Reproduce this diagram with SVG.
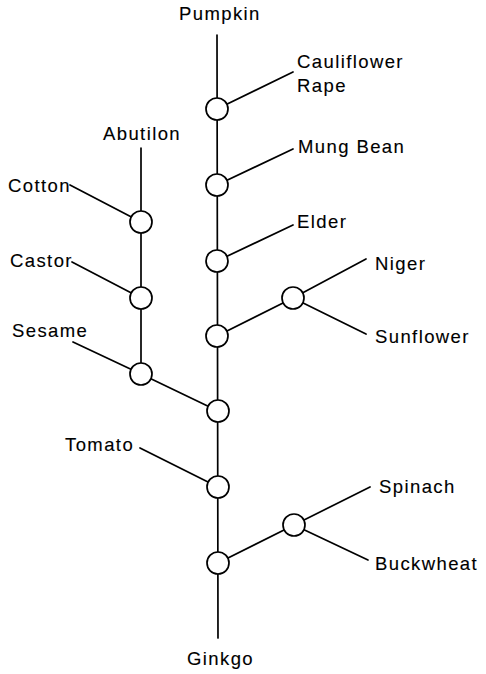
<svg xmlns="http://www.w3.org/2000/svg" width="486" height="674" viewBox="0 0 486 674">
  <style>
    .edge { stroke: #000; stroke-width: 1.7; fill: none; stroke-linecap: round; }
    .node circle { fill: #fff; stroke: #000; stroke-width: 1.7; }
    text { font-family: "Liberation Sans", Arial, sans-serif; font-size: 18.5px; letter-spacing: 1.4px; fill: #000; stroke: #000; stroke-width: 0.12px; }
  </style>
  <rect width="486" height="674" fill="#fff"/>

  <!-- connectors -->
  <g id="connectors">
    <!-- main trunk -->
    <line class="edge" x1="217" y1="35" x2="218" y2="638"/>
    <!-- left branch -->
    <line class="edge" x1="141" y1="148" x2="141" y2="374"/>
    <line class="edge" x1="141" y1="374" x2="218" y2="411"/>
    <line class="edge" x1="70" y1="185" x2="141" y2="222"/>
    <line class="edge" x1="72" y1="262" x2="141" y2="298"/>
    <line class="edge" x1="73" y1="342" x2="141" y2="374"/>
    <!-- right leaves -->
    <line class="edge" x1="217" y1="109" x2="293" y2="72"/>
    <line class="edge" x1="217" y1="185" x2="293" y2="149"/>
    <line class="edge" x1="217" y1="261" x2="293" y2="225"/>
    <line class="edge" x1="217" y1="336" x2="293" y2="298"/>
    <line class="edge" x1="293" y1="298" x2="366" y2="259"/>
    <line class="edge" x1="293" y1="298" x2="366" y2="334"/>
    <!-- lower part -->
    <line class="edge" x1="140" y1="448" x2="218" y2="487"/>
    <line class="edge" x1="218" y1="563" x2="294" y2="525"/>
    <line class="edge" x1="294" y1="525" x2="370" y2="487"/>
    <line class="edge" x1="294" y1="525" x2="368" y2="560"/>
  </g>

  <!-- branch points -->
  <g id="n1" class="node"><circle cx="217" cy="109" r="11"/></g>
  <g id="n2" class="node"><circle cx="217" cy="185" r="11"/></g>
  <g id="n3" class="node"><circle cx="217" cy="261" r="11"/></g>
  <g id="n4" class="node"><circle cx="217" cy="336" r="11"/></g>
  <g id="n5" class="node"><circle cx="218" cy="411" r="11"/></g>
  <g id="n6" class="node"><circle cx="218" cy="487" r="11"/></g>
  <g id="n7" class="node"><circle cx="218" cy="563" r="11"/></g>
  <g id="n8" class="node"><circle cx="293" cy="298" r="11"/></g>
  <g id="n9" class="node"><circle cx="294" cy="525" r="11"/></g>
  <g id="n10" class="node"><circle cx="141" cy="222" r="11"/></g>
  <g id="n11" class="node"><circle cx="141" cy="298" r="11"/></g>
  <g id="n12" class="node"><circle cx="141" cy="374" r="11"/></g>

  <!-- species labels -->
  <g id="pumpkin"><text x="179" y="20">Pumpkin</text></g>
  <g id="cauliflower-rape"><text x="297" y="68">Cauliflower</text><text x="297" y="92">Rape</text></g>
  <g id="mung-bean"><text x="298" y="153">Mung Bean</text></g>
  <g id="elder"><text x="297" y="228">Elder</text></g>
  <g id="niger"><text x="375" y="270">Niger</text></g>
  <g id="sunflower"><text x="375" y="343">Sunflower</text></g>
  <g id="spinach"><text x="379" y="493">Spinach</text></g>
  <g id="buckwheat"><text x="375" y="570">Buckwheat</text></g>
  <g id="ginkgo"><text x="187" y="665">Ginkgo</text></g>
  <g id="abutilon"><text x="103" y="140">Abutilon</text></g>
  <g id="cotton"><text x="8" y="192">Cotton</text></g>
  <g id="castor"><text x="10" y="267">Castor</text></g>
  <g id="sesame"><text x="12" y="337">Sesame</text></g>
  <g id="tomato"><text x="65" y="451">Tomato</text></g>
</svg>
